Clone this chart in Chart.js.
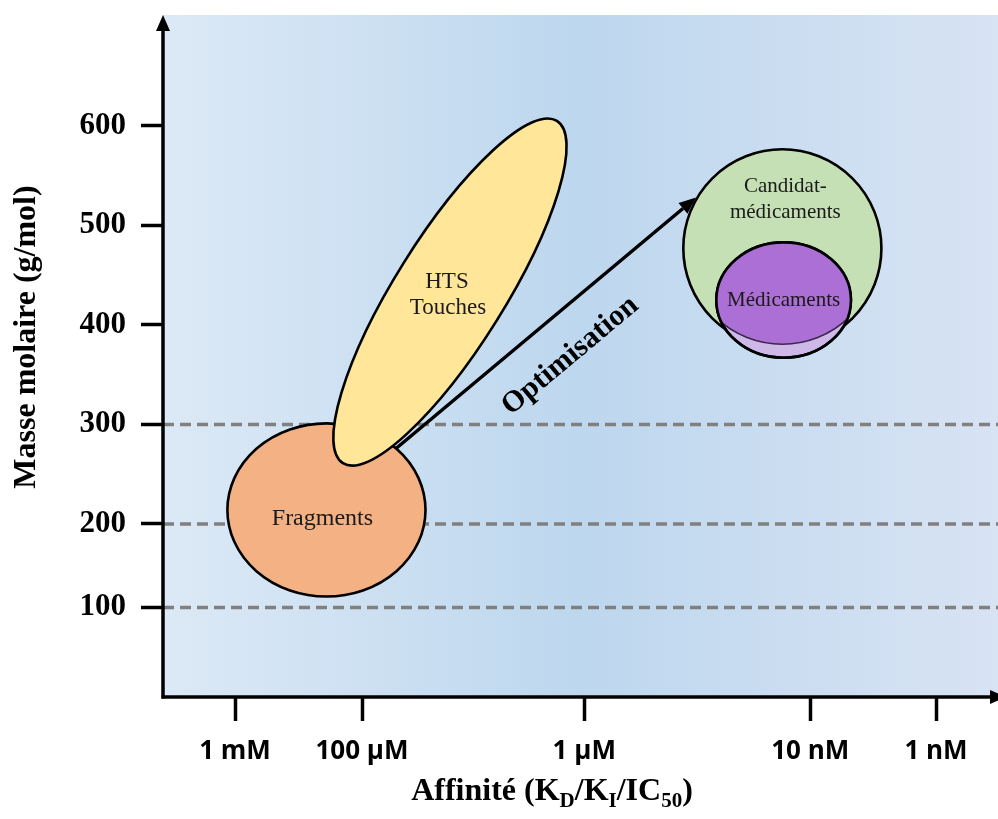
<!DOCTYPE html>
<html><head><meta charset="utf-8">
<script src="https://cdn.jsdelivr.net/npm/chart.js@4.4.1/dist/chart.umd.min.js"></script>
<style>html,body{margin:0;padding:0;background:#fff;}#wrap{width:998px;height:819px;position:relative;}</style>
</head><body><div id="wrap"><canvas id="c"></canvas></div>
<script>
// ---- data ----
const affinityLabels = ['1 mM', '100 µM', '1 µM', '10 nM', '1 nM'];
const affinityTickPositions = [3, 4, 5.75, 7.53, 8.52];
const massTickLabels = ['100', '200', '300', '400', '500', '600'];
const massTickPositions = [116, 200, 300, 400, 500, 600];
const referenceMasses = [300, 200, 116];

const regionNames = ['Fragments', 'Candidat-médicaments', 'Médicaments'];
const regionAffinity = [3.72, 7.31, 7.32];
const regionMass = [214, 477, 425];
const regionAffinitySpread = [0.78, 0.78, 0.53];
const regionMassSpread = [87, 99.5, 58];

const htsAffinityRange = [3.85, 5.535];
const htsMassRange = [261, 605];
const htsMassWidth = 55;

const optimisationFrom = [4.27, 276];
const optimisationTo = [6.63, 528];
const optimisationLabelAt = [5.64, 369];

const xTitleParts = [['Affinité (K', 0], ['D', 1], ['/K', 0], ['I', 1], ['/IC', 0], ['50', 1], [')', 0]];

const SERIF = '"Liberation Serif", "Times New Roman", serif';

const diagram = {
  id: 'diagram',
  beforeDraw(chart) {
    const {ctx, chartArea: a} = chart;
    const g = ctx.createLinearGradient(a.left, 0, a.right, 0);
    g.addColorStop(0, '#dce9f6');
    g.addColorStop(0.5, '#bdd7ee');
    g.addColorStop(1, '#d8e3f4');
    ctx.save();
    ctx.fillStyle = g;
    ctx.fillRect(a.left, a.top, a.right - a.left, a.bottom - a.top);
    ctx.restore();
  },
  afterDraw(chart) {
    const {ctx, chartArea: a} = chart;
    const xs = chart.scales.x, ys = chart.scales.y;
    const X = v => xs.getPixelForValue(v), Y = v => ys.getPixelForValue(v);
    const LW = 2.6;
    ctx.save();
    // dashed reference lines
    ctx.strokeStyle = '#808080';
    ctx.lineWidth = 3.5;
    ctx.setLineDash([11, 6]);
    referenceMasses.forEach(m => {
      ctx.beginPath(); ctx.moveTo(a.left, Y(m)); ctx.lineTo(a.right, Y(m)); ctx.stroke();
    });
    ctx.setLineDash([]);

    const ell = (i) => ({cx: X(regionAffinity[i]), cy: Y(regionMass[i]),
      rx: X(regionAffinity[i] + regionAffinitySpread[i]) - X(regionAffinity[i]),
      ry: Y(regionMass[i]) - Y(regionMass[i] + regionMassSpread[i])});
    const drawEll = (e, fill) => {
      ctx.beginPath(); ctx.ellipse(e.cx, e.cy, e.rx, e.ry, 0, 0, Math.PI * 2);
      ctx.fillStyle = fill; ctx.fill();
      ctx.lineWidth = LW; ctx.strokeStyle = '#000'; ctx.stroke();
    };
    // Fragments
    const fr = ell(0);
    drawEll(fr, '#f4b183');
    // HTS
    const p1 = [X(htsAffinityRange[0]), Y(htsMassRange[0])];
    const p2 = [X(htsAffinityRange[1]), Y(htsMassRange[1])];
    const hc = [(p1[0] + p2[0]) / 2, (p1[1] + p2[1]) / 2];
    const ha = Math.hypot(p2[0] - p1[0], p2[1] - p1[1]) / 2;
    const hrot = Math.atan2(p2[1] - p1[1], p2[0] - p1[0]);
    const hb = Y(0) - Y(htsMassWidth);
    ctx.beginPath(); ctx.ellipse(hc[0], hc[1], ha, hb, hrot, 0, Math.PI * 2);
    ctx.fillStyle = '#ffe699'; ctx.fill();
    ctx.lineWidth = LW; ctx.strokeStyle = '#000'; ctx.stroke();

    // arrow
    const s = [X(optimisationFrom[0]), Y(optimisationFrom[1])];
    const t = [X(optimisationTo[0]), Y(optimisationTo[1])];
    const ang = Math.atan2(t[1] - s[1], t[0] - s[0]);
    const hl = 17, hw = 7;
    const bx = t[0] - hl * Math.cos(ang), by = t[1] - hl * Math.sin(ang);
    ctx.beginPath(); ctx.moveTo(s[0], s[1]); ctx.lineTo(bx, by);
    ctx.lineWidth = 3.5; ctx.strokeStyle = '#000'; ctx.stroke();
    ctx.beginPath();
    ctx.moveTo(t[0], t[1]);
    ctx.lineTo(bx + hw * Math.sin(ang), by - hw * Math.cos(ang));
    ctx.lineTo(bx - hw * Math.sin(ang), by + hw * Math.cos(ang));
    ctx.closePath(); ctx.fillStyle = '#000'; ctx.fill();

    // Candidat circle
    const cd = ell(1);
    drawEll(cd, '#c5e0b4');
    // Médicaments
    const md = ell(2);
    drawEll(md, '#cdb8e8');
    ctx.save();
    ctx.beginPath(); ctx.ellipse(cd.cx, cd.cy, cd.rx - 3, cd.ry - 3, 0, 0, Math.PI * 2); ctx.clip();
    ctx.beginPath(); ctx.ellipse(md.cx, md.cy, md.rx, md.ry, 0, 0, Math.PI * 2);
    ctx.fillStyle = '#ab6fd6'; ctx.fill();
    ctx.restore();
    ctx.save();
    ctx.beginPath(); ctx.ellipse(md.cx, md.cy, md.rx, md.ry, 0, 0, Math.PI * 2); ctx.clip();
    ctx.beginPath(); ctx.ellipse(cd.cx, cd.cy, cd.rx - 3, cd.ry - 3, 0, 0, Math.PI * 2);
    ctx.lineWidth = 1.6; ctx.strokeStyle = '#3a2a4a'; ctx.stroke();
    ctx.restore();
    ctx.beginPath(); ctx.ellipse(md.cx, md.cy, md.rx, md.ry, 0, 0, Math.PI * 2);
    ctx.lineWidth = LW; ctx.strokeStyle = '#000'; ctx.stroke();

    // region labels
    ctx.fillStyle = '#1a1a1a';
    ctx.textAlign = 'center'; ctx.textBaseline = 'middle';
    ctx.font = '24px ' + SERIF;
    ctx.fillText('Fragments', fr.cx - 4, fr.cy + 9);
    ctx.font = '23px ' + SERIF;
    ctx.fillText('HTS', hc[0] - 3, hc[1] - 10);
    ctx.fillText('Touches', hc[0] - 2, hc[1] + 16);
    ctx.font = '21px ' + SERIF;
    ctx.fillText('Candidat-', cd.cx + 3, cd.cy - 62);
    ctx.fillText('médicaments', cd.cx + 3, cd.cy - 36);
    ctx.fillText('Médicaments', md.cx, md.cy);

    // Optimisation label
    ctx.save();
    ctx.translate(X(optimisationLabelAt[0]), Y(optimisationLabelAt[1]));
    ctx.rotate(ang);
    ctx.font = 'bold 30px ' + SERIF;
    ctx.fillStyle = '#000';
    ctx.fillText('Optimisation', 0, 0);
    ctx.restore();

    // axes with arrows
    ctx.strokeStyle = '#000'; ctx.fillStyle = '#000'; ctx.lineWidth = 3.5;
    ctx.beginPath(); ctx.moveTo(a.left, a.bottom + 1.5); ctx.lineTo(a.left, a.top + 14); ctx.stroke();
    ctx.beginPath(); ctx.moveTo(a.left, a.top); ctx.lineTo(a.left - 7, a.top + 16); ctx.lineTo(a.left + 7, a.top + 16); ctx.closePath(); ctx.fill();
    ctx.beginPath(); ctx.moveTo(a.left - 1.5, a.bottom); ctx.lineTo(a.right, a.bottom); ctx.stroke();
    ctx.beginPath(); ctx.moveTo(a.right + 8, a.bottom); ctx.lineTo(a.right - 8, a.bottom - 7); ctx.lineTo(a.right - 8, a.bottom + 7); ctx.closePath(); ctx.fill();

    // axis titles
    ctx.fillStyle = '#000';
    ctx.save();
    ctx.translate(35, 337);
    ctx.rotate(-Math.PI / 2);
    ctx.font = 'bold 32px ' + SERIF;
    ctx.textAlign = 'center'; ctx.textBaseline = 'alphabetic';
    ctx.fillText('Masse molaire (g/mol)', 0, 0);
    ctx.restore();

    const big = 'bold 32px ' + SERIF, small = 'bold 21px ' + SERIF;
    let total = 0;
    xTitleParts.forEach(([txt, sub]) => { ctx.font = sub ? small : big; total += ctx.measureText(txt).width; });
    let x = 552 - total / 2;
    ctx.textAlign = 'left'; ctx.textBaseline = 'alphabetic';
    xTitleParts.forEach(([txt, sub]) => {
      ctx.font = sub ? small : big;
      ctx.fillText(txt, x, sub ? 807 : 800);
      x += ctx.measureText(txt).width;
    });
    ctx.restore();
  }
};

const ctxEl = document.getElementById('c');
new Chart(ctxEl, {
  type: 'scatter',
  data: {
    datasets: [{
      label: 'Régions',
      data: regionNames.map((n, i) => ({x: regionAffinity[i], y: regionMass[i]})),
      pointRadius: 0, pointHoverRadius: 0
    }]
  },
  options: {
    responsive: true, maintainAspectRatio: false, animation: false,
    layout: {padding: {top: 15, right: 0, left: 0, bottom: 0}},
    plugins: {legend: {display: false}, tooltip: {enabled: false}},
    scales: {
      x: {
        type: 'linear', min: 2.433, max: 9.008,
        afterBuildTicks: s => { s.ticks = affinityTickPositions.map(v => ({value: v})); },
        afterFit: s => { s.height = 122; s.paddingLeft = 0; s.paddingRight = 0; },
        border: {display: false},
        grid: {drawOnChartArea: false, drawTicks: true, tickLength: 24, tickWidth: 3.5, tickColor: '#000', color: 'rgba(0,0,0,0)'},
        ticks: {
          autoSkip: false, maxRotation: 0, padding: 15, color: '#000',
          font: {family: '"Open Sans", sans-serif', weight: 'bold', size: 26},
          callback: (v, i) => affinityLabels[i]
        }
      },
      y: {
        type: 'linear', min: 26, max: 711.5,
        afterBuildTicks: s => { s.ticks = massTickPositions.map(v => ({value: v})); },
        afterFit: s => { s.width = 163; s.paddingTop = 0; s.paddingBottom = 0; },
        border: {display: false},
        grid: {drawOnChartArea: false, drawTicks: true, tickLength: 22, tickWidth: 3.5, tickColor: '#000', color: 'rgba(0,0,0,0)'},
        ticks: {
          autoSkip: false, padding: 15, color: '#000',
          font: {family: SERIF, weight: 'bold', size: 31},
          callback: (v, i) => massTickLabels[i]
        }
      }
    }
  },
  plugins: [diagram]
});
</script></body></html>
